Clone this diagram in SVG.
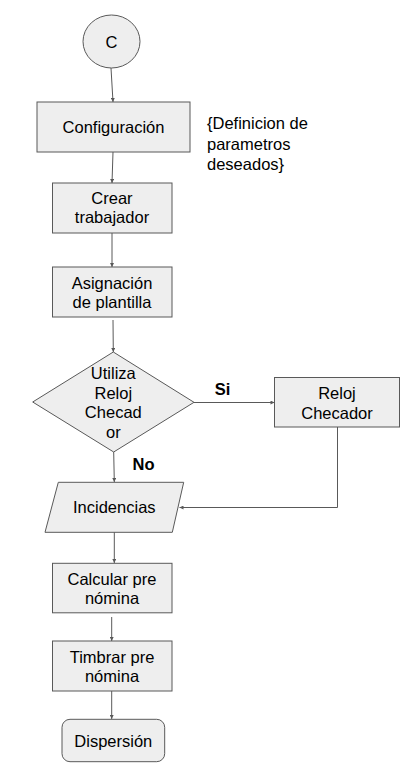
<svg xmlns="http://www.w3.org/2000/svg" width="409" height="769" viewBox="0 0 409 769">
<style>
.n{fill:#eeeeee;stroke:#595959;stroke-width:1}
.t{font-family:"Liberation Sans",Arial,sans-serif;font-size:16.5px;fill:#000;text-anchor:middle}
.b{font-weight:bold}
.c{fill:none;stroke:#595959;stroke-width:1}
</style>
<defs>
<marker id="a" viewBox="0 0 10 10" refX="10" refY="5" markerWidth="5" markerHeight="4" orient="auto" markerUnits="userSpaceOnUse">
<path d="M0,0L10,5L0,10z" fill="#595959"/>
</marker>
</defs>
<rect width="409" height="769" fill="#fff"/>
<g id="connectors">
<line class="c" x1="111" y1="68" x2="113" y2="102" marker-end="url(#a)"/>
<line class="c" x1="113" y1="152" x2="112" y2="183" marker-end="url(#a)"/>
<line class="c" x1="112" y1="233" x2="112" y2="267" marker-end="url(#a)"/>
<line class="c" x1="113" y1="320" x2="113.3" y2="352" marker-end="url(#a)"/>
<line class="c" x1="194" y1="402.5" x2="274.5" y2="402.5" marker-end="url(#a)"/>
<line class="c" x1="113.7" y1="452" x2="114.3" y2="482" marker-end="url(#a)"/>
<polyline class="c" points="337.5,427 337.5,507.5 179.5,507.5" marker-end="url(#a)"/>
<line class="c" x1="114.3" y1="532" x2="114.3" y2="563" marker-end="url(#a)"/>
<line class="c" x1="111.7" y1="617" x2="111.7" y2="641" marker-end="url(#a)"/>
<line class="c" x1="111.7" y1="691" x2="111.7" y2="719" marker-end="url(#a)"/>
<text class="t b" x="222.5" y="395">Si</text>
<text class="t b" x="143.5" y="470">No</text>
</g>
<g id="start">
<ellipse class="n" cx="111.5" cy="41.5" rx="28.5" ry="26.5"/>
<text class="t" x="111.5" y="47.5">C</text>
</g>
<g id="configuracion">
<rect class="n" x="37" y="102" width="153" height="50"/>
<text class="t" x="113.5" y="133">Configuración</text>
</g>
<g id="nota">
<text class="t" style="text-anchor:start" x="207" y="129">{Definicion de</text>
<text class="t" style="text-anchor:start" x="207" y="149.5">parametros</text>
<text class="t" style="text-anchor:start" x="207" y="170">deseados}</text>
</g>
<g id="crear">
<rect class="n" x="52.5" y="183" width="119.5" height="50"/>
<text class="t" x="112" y="203.5">Crear</text>
<text class="t" x="112" y="223">trabajador</text>
</g>
<g id="asignacion">
<rect class="n" x="52.5" y="267" width="119.5" height="50"/>
<text class="t" x="112" y="288.5">Asignación</text>
<text class="t" x="112" y="307.5">de plantilla</text>
</g>
<g id="decision">
<polygon class="n" points="113.3,352 194,402.3 113.7,452 32.7,402"/>
<text class="t" x="113.3" y="379.3">Utiliza</text>
<text class="t" x="113.3" y="398.8">Reloj</text>
<text class="t" x="113.3" y="418.3">Checad</text>
<text class="t" x="113.3" y="437.8">or</text>
</g>
<g id="reloj">
<rect class="n" x="274.5" y="377.5" width="125" height="49.5"/>
<text class="t" x="337" y="399">Reloj</text>
<text class="t" x="337" y="418.5">Checador</text>
</g>
<g id="incidencias">
<polygon class="n" points="58.3,482.3 183.7,482.3 172.3,532.3 45,532.3"/>
<text class="t" x="114.3" y="513.3">Incidencias</text>
</g>
<g id="calcular">
<rect class="n" x="52.5" y="563.3" width="119.5" height="49.5"/>
<text class="t" x="112" y="585">Calcular pre</text>
<text class="t" x="112" y="603.5">nómina</text>
</g>
<g id="timbrar">
<rect class="n" x="52.5" y="641" width="119.5" height="50"/>
<text class="t" x="112" y="663.3">Timbrar pre</text>
<text class="t" x="112" y="681.8">nómina</text>
</g>
<g id="dispersion">
<rect class="n" x="62" y="719.3" width="102.7" height="42.4" rx="8" ry="8"/>
<text class="t" x="113.3" y="746.7">Dispersión</text>
</g>
</svg>
